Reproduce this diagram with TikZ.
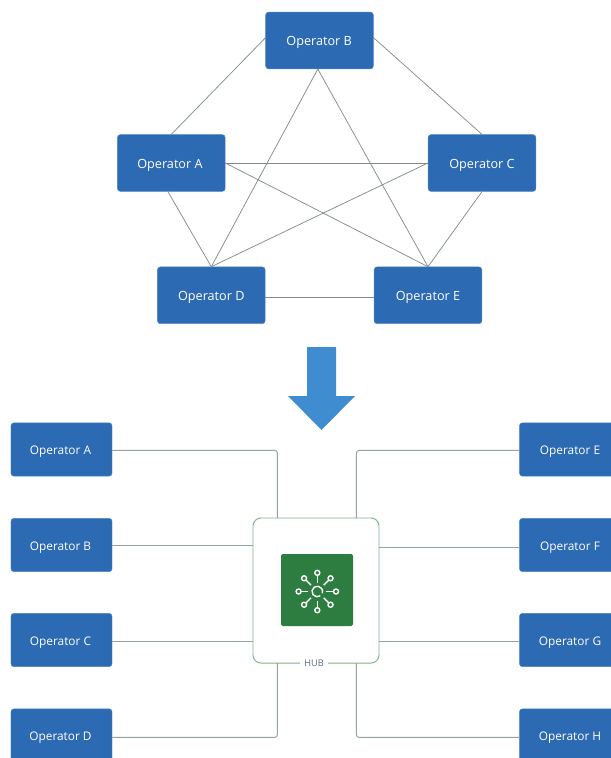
\documentclass[tikz,border=0pt]{standalone}
\usepackage{fontspec}
\setmainfont{Open Sans}
\definecolor{opblue}{HTML}{2D6AB4}
\definecolor{opedge}{HTML}{4F84C4}
\definecolor{arrowblue}{HTML}{3F8DD0}
\definecolor{hubgreen}{HTML}{2C7D3F}
\definecolor{hubedge}{HTML}{7FB28B}
\definecolor{meshline}{HTML}{808C8C}
\definecolor{hubline}{HTML}{93A3A1}
\definecolor{hubtext}{HTML}{5A6B78}
\tikzset{
  opbase/.style={rectangle,rounded corners=2.2pt,fill=opblue,draw=opedge,line width=0.3pt,text=white,inner sep=0pt,anchor=center,text height=10pt,text depth=2pt},
  optop/.style={opbase,minimum width=80.8pt,minimum height=42.6pt,font=\fontsize{9.5pt}{11pt}\selectfont},
  oplow/.style={opbase,minimum width=75.8pt,minimum height=40pt,font=\fontsize{8.9pt}{11pt}\selectfont},
  mesh/.style={draw=meshline,line width=0.55pt},
  link/.style={draw=hubline,line width=0.7pt,rounded corners=2pt},
  hubbox/.style={rectangle,rounded corners=6pt,draw=hubedge,fill=white,line width=0.7pt,minimum width=94.5pt,minimum height=108.8pt,inner sep=0pt},
  hubsq/.style={rectangle,rounded corners=1.2pt,fill=hubgreen,minimum width=54pt,minimum height=54pt,inner sep=0pt},
  hublabel/.style={fill=white,text=hubtext,inner xsep=3pt,inner ysep=1pt,font=\fontsize{6.9pt}{8pt}\selectfont},
  iconline/.style={draw=white,line width=1.05pt},
}
\begin{document}
\begin{tikzpicture}[x=0.75pt,y=-0.75pt]
\useasboundingbox (0,0) rectangle (611,758);
\clip (0,0) rectangle (611,758);
% top mesh nodes
\node[optop] (tb) at (319.5,40.5) {Operator B\kern0.5pt};
\node[optop] (ta) at (171.3,163) {Operator A\kern2pt};
\node[optop] (tc) at (482,163) {Operator C};
\node[optop] (td) at (211.3,295.3) {Operator D};
\node[optop] (te) at (428,295.3) {Operator E};
% attachment points that sit off the box centres
\coordinate (tbl) at (265.7,37.5);
\coordinate (tbr) at (373.3,37.5);
\coordinate (tbs) at (317.8,69);
\coordinate (tas) at (167.7,191.3);
% mesh connectors
\draw[mesh] (tbl) -- (ta.north);
\draw[mesh] (tbr) -- (tc.north);
\draw[mesh] (tbs) -- (td.north);
\draw[mesh] (tbs) -- (te.north);
\draw[mesh] (ta.east) -- (tc.west);
\draw[mesh] (ta.east) -- (te.north);
\draw[mesh] (tc.west) -- (td.north);
\draw[mesh] (tas) -- (td.north);
\draw[mesh] (tc.south) -- (te.north);
\draw[mesh] (td.east |- 0,297) -- (te.west |- 0,297);
% big arrow
\fill[arrowblue] (307,347) -- (336,347) -- (336,396) -- (355,396) -- (321.5,430) -- (288,396) -- (307,396) -- cycle;
% hub
\node[hubbox] (hub) at (316,590.5) {};
\node[hubsq] (sq) at (317,590) {};
\node[hublabel] (hubl) at (314,663) {HUB};
% bottom nodes
\node[oplow] (la) at (61.5,449.5) {Operator A\kern1.5pt};
\node[oplow] (lb) at (61.5,545) {Operator B\kern1.5pt};
\node[oplow] (lc) at (61.5,640) {Operator C\kern1.5pt};
\node[oplow] (ld) at (61.5,735.5) {Operator D\kern1.5pt};
\node[oplow] (re) at (570,449.5) {Operator E};
\node[oplow] (rf) at (570,545) {Operator F};
\node[oplow] (rg) at (570,640) {Operator G};
\node[oplow] (rh) at (570,735.5) {Operator H};
% junctions on the hub
\coordinate (hnl) at (277.4,518);
\coordinate (hnr) at (356.4,518);
\coordinate (hsl) at (277.4,663);
\coordinate (hsr) at (356.4,663);
\draw[link] (la.east |- 0,450.4) -| (hnl);
\draw[link] (lb.east) -- (lb.east -| hub.west);
\draw[link] (lc.east |- 0,641) -- (hub.west |- 0,641);
\draw[link] (ld.east |- 0,737.4) -| (hsl);
\draw[link] (re.west |- 0,450.4) -| (hnr);
\draw[link] (rf.west |- 0,547) -- (hub.east |- 0,547);
\draw[link] (rg.west |- 0,641) -- (hub.east |- 0,641);
\draw[link] (rh.west |- 0,737.4) -| (hsr);
% hub icon
\begin{scope}[shift={(317.3,591.5)}]
\draw[iconline] (55:5.3) arc (55:380:5.3);
\foreach \a in {0,45,...,315}{
  \draw[iconline] (\a:9) -- (\a:16);
  \draw[iconline] (\a:18.7) circle (2.5);
}
\end{scope}
\end{tikzpicture}
\end{document}
